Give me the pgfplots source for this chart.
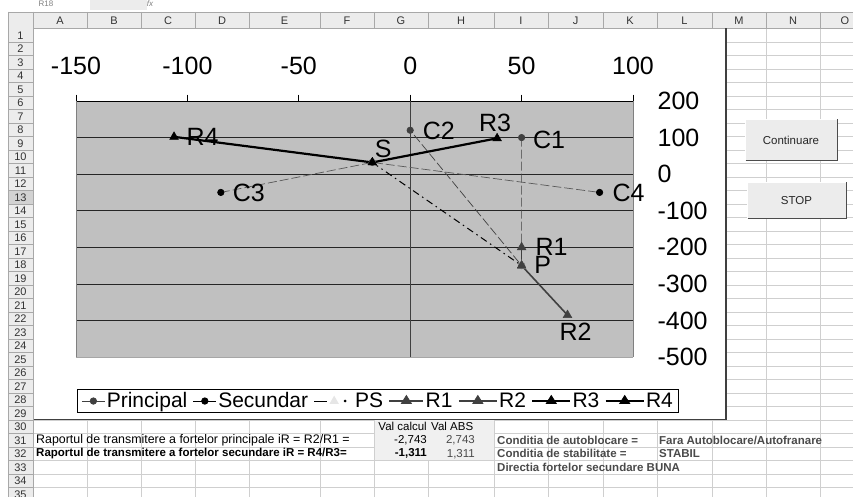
\documentclass[border=0pt]{standalone}
\usepackage{pgfplots}
\pgfplotsset{compat=1.18}
\usepackage{fontspec}
\setmainfont{Liberation Sans}
\definecolor{hdr}{HTML}{ECECEC}
\definecolor{hdrsel}{HTML}{D2D2D2}
\definecolor{hdrline}{HTML}{A8A8A8}
\definecolor{gridc}{HTML}{CFCFCF}
\definecolor{plotbg}{HTML}{C0C0C0}
\definecolor{dg}{HTML}{404040}
\definecolor{cellfill}{HTML}{F0F0F0}
\definecolor{txtgray}{HTML}{4A4A4A}
\definecolor{psmark}{HTML}{E6E6E6}
\tikzset{px/.style={x=1pt,y=-1pt,shift={(0pt,497pt)}}}
\begin{document}
\begin{tikzpicture}
\useasboundingbox (0pt,0pt) rectangle (853pt,497pt);
\clip (0pt,0pt) rectangle (853pt,497pt);
\begin{scope}[px]
\fill[white] (0,0) rectangle (853,497);
% formula bar remnants
\fill[hdr] (90,0) rectangle (147,10);
\node[font=\fontsize{8}{9}\selectfont, text=gray, inner sep=0pt] at (46,4) {R18};
\node[font=\fontsize{8}{9}\selectfont\itshape, text=gray, inner sep=0pt] at (150,4) {fx};
% cell grid
\foreach \k in {0,...,35} \draw[gridc, line width=0.6pt] (33,{28.5+13.5*\k}) -- (853,{28.5+13.5*\k});
\foreach \c in {87,141,195,249,320,374,428,494,548,603,657,712,766,820} \draw[gridc, line width=0.6pt] (\c,28) -- (\c,497);
% shaded value cells
\fill[cellfill] (374.5,420.5) rectangle (494,460.5);
% column header band
\fill[hdr] (8,12) rectangle (853,28.5);
\draw[hdrline] (8,12) -- (853,12);
\draw[hdrline] (8,28.5) -- (853,28.5);
\foreach \c in {8,33,87,141,195,249,320,374,428,494,548,603,657,712,766,820} \draw[hdrline] (\c,12) -- (\c,28.5);
\foreach \l/\c in {A/60,B/114,C/168,D/222,E/284.5,F/347,G/401,H/461,I/521,J/575.5,K/630,L/684.5,M/739,N/793,O/845}
  \node[font=\fontsize{11}{12}\selectfont, text=black!80, inner sep=0pt] at (\c,20.5) {\l};
% row header column
\fill[hdr] (8,28.5) rectangle (33,497);
\fill[hdrsel] (8,{28.5+13.5*12}) rectangle (33,{28.5+13.5*13});
\draw[hdrline] (8,12) -- (8,497);
\draw[hdrline] (33,12) -- (33,497);
\foreach \k in {1,...,35} {
  \draw[hdrline] (8,{28.5+13.5*\k}) -- (33,{28.5+13.5*\k});
  \node[font=\fontsize{11}{12}\selectfont, text=black!80, inner sep=0pt] at (20.5,{28.5+13.5*\k-6.6}) {\k};
}
% chart area
\fill[white] (33.5,29) rectangle (726,419.5);
\draw[dg, line width=1.3pt] (33.5,419.5) -- (726,419.5) -- (726,28.5);
\end{scope}
% chart
\begin{axis}[
  at={(76pt,140pt)}, anchor=south west,
  scale only axis, width=557pt, height=256pt,
  xmin=-150, xmax=100, ymin=-500, ymax=200,
  axis background/.style={fill=plotbg},
  axis x line*=top, axis y line*=box, separate axis lines,
  x axis line style={draw=black, line width=0.8pt, -},
  y axis line style={draw=gray, line width=0.6pt, -},
  xtick={-150,-100,-50,0,50,100},
  ytick={-400,-300,-200,-100,0,100,200},
  extra y ticks={-500},
  extra y tick style={grid=major, major grid style={draw=gray!70, line width=0.6pt}},
  extra x ticks={0},
  extra x tick labels={},
  extra x tick style={grid=major, major grid style={draw=dg, line width=1.2pt}, major tick length=0pt},
  ymajorgrids,
  major grid style={draw=black!85, line width=0.7pt},
  tick align=outside,
  major tick length=6.4pt,
  xtick pos=right, xticklabel pos=right,
  ytick pos=right, yticklabel pos=right,
  ytick style={draw=none},
  xtick style={draw=black, line width=0.7pt},
  tick label style={font=\fontsize{25}{30}\selectfont, inner sep=0pt},
  xticklabel style={anchor=south, yshift=20pt},
  yticklabel style={anchor=west, xshift=18pt},
  /pgf/number format/assume math mode=true,
  clip=false,
  legend columns=-1,
  legend style={at={(0.542,-0.172)}, anchor=center, draw=black, line width=0.8pt, fill=white,
    font=\fontsize{21}{25}\selectfont, inner xsep=4pt, inner ysep=1pt,
    /tikz/every even column/.append style={column sep=4pt}, nodes={inner xsep=1.5pt, inner ysep=2pt}},
]
% Principal
\addplot[forget plot, color=dg, line width=0.7pt, dash pattern=on 9pt off 3pt,
  mark=*, mark size=3.2pt, mark options={solid, fill=dg, draw=dg}]
  coordinates {(50,100) (50,-250) (0,120)};
% Secundar
\addplot[forget plot, color=black!65, line width=0.7pt, dash pattern=on 9pt off 3pt,
  mark=*, mark size=3.2pt, mark options={solid, fill=black, draw=black}]
  coordinates {(-85,-50) (-17,32) (85,-50)};
% PS
\addplot[forget plot, color=black, line width=1pt, dash pattern=on 7pt off 4pt on 1.5pt off 4pt,
  mark=triangle*, mark size=5pt, mark options={solid, fill=psmark, draw=psmark}]
  coordinates {(-17,32) (50,-250)};
% R1
\addplot[forget plot, color=dg, line width=1.6pt, mark=triangle*, mark size=5pt,
  mark options={solid, fill=dg, draw=dg, line width=0.5pt}]
  coordinates {(50,-250) (50,-200)};
% R2
\addplot[forget plot, color=dg, line width=1.6pt, mark=triangle*, mark size=5pt,
  mark options={solid, fill=dg, draw=dg, line width=0.5pt}]
  coordinates {(50,-250) (70.6,-385.5)};
% R3
\addplot[forget plot, color=black, line width=2.2pt, mark=triangle*, mark size=5pt,
  mark options={solid, fill=black, draw=black, line width=0.5pt}]
  coordinates {(-17,32) (39,98)};
% R4
\addplot[forget plot, color=black, line width=2.2pt, mark=triangle*, mark size=5pt,
  mark options={solid, fill=black, draw=black, line width=0.5pt}]
  coordinates {(-17,32) (-106,102)};
% point labels
\addplot[forget plot, only marks, mark=none, nodes near coords, point meta=explicit symbolic,
  visualization depends on={\thisrow{dx}\as\ddx},
  visualization depends on={\thisrow{dy}\as\ddy},
  every node near coord/.append style={anchor=center, inner sep=0pt, xshift=\ddx pt, yshift=\ddy pt,
    font=\fontsize{25}{30}\selectfont, text=black}]
  table[meta=lab] {
x y lab dx dy
50 100 C1 27.5 -2
0 120 C2 28.7 -1
-85 -50 C3 28 0
85 -50 C4 29 0
50 -200 R1 30 0
70.6 -385.5 R2 8 -17
39 98 R3 -2 15
-106 102 R4 28.5 0
-17 32 S 11 14
50 -250 P 21 1
};
% legend
\addlegendimage{legend image code/.code={\draw[dg, line width=0.9pt] (0pt,0pt) -- (23pt,0pt); \fill[dg] (11.5pt,0pt) circle (3.2pt);}}
\addlegendentry{Principal}
\addlegendimage{legend image code/.code={\draw[black, line width=0.9pt] (0pt,0pt) -- (23pt,0pt); \fill[black] (11.5pt,0pt) circle (3.2pt);}}
\addlegendentry{Secundar}
\addlegendimage{legend image code/.code={\draw[black, line width=1pt] (0pt,0pt) -- (13pt,0pt); \fill[psmark] (16pt,-2.5pt) -- (20pt,4.5pt) -- (24pt,-2.5pt) -- cycle; \fill[black] (31pt,0pt) circle (0.9pt); \path (39pt,0pt);}}
\addlegendentry{PS}
\addlegendimage{legend image code/.code={\draw[dg, line width=1.6pt] (0pt,0pt) -- (34pt,0pt); \fill[dg] (12pt,-2.5pt) -- (17pt,5.5pt) -- (22pt,-2.5pt) -- cycle;}}
\addlegendentry{R1}
\addlegendimage{legend image code/.code={\draw[dg, line width=1.6pt] (0pt,0pt) -- (38pt,0pt); \fill[dg] (14pt,-2.5pt) -- (19pt,5.5pt) -- (24pt,-2.5pt) -- cycle;}}
\addlegendentry{R2}
\addlegendimage{legend image code/.code={\draw[black, line width=1.6pt] (0pt,0pt) -- (38pt,0pt); \fill[black] (14pt,-2.5pt) -- (19pt,5.5pt) -- (24pt,-2.5pt) -- cycle;}}
\addlegendentry{R3}
\addlegendimage{legend image code/.code={\draw[black, line width=1.6pt] (0pt,0pt) -- (38pt,0pt); \fill[black] (14pt,-2.5pt) -- (19pt,5.5pt) -- (24pt,-2.5pt) -- cycle;}}
\addlegendentry{R4}
\end{axis}
\begin{scope}[px]
% buttons
\fill[hdr] (745,119) rectangle (837,161);
\draw[white] (745,161) -- (745,119) -- (837,119);
\draw[gray!60!black, line width=1pt] (745.5,161) -- (837,161) -- (837,119.5);
\node[font=\fontsize{11.5}{13}\selectfont, text=black!85] at (791,140) {Continuare};
\fill[hdr] (747,182) rectangle (846,219);
\draw[white] (747,219) -- (747,182) -- (846,182);
\draw[gray!60!black, line width=1pt] (747.5,219) -- (846,219) -- (846,182.5);
\node[font=\fontsize{11.5}{13}\selectfont, text=black!85] at (796.5,200.5) {STOP};
% cell texts
\begin{scope}[every node/.style={font=\fontsize{11.5}{13}\selectfont, inner sep=0pt}]
\node[anchor=east] at (427,426.8) {Val calcul};
\node[anchor=west] at (431,426.8) {Val ABS};
\node[anchor=west, font=\fontsize{12.4}{13}\selectfont] at (36,440.3) {Raportul de transmitere a fortelor principale iR = R2/R1 =};
\node[anchor=west] at (36,453.8) {\bfseries Raportul de transmitere a fortelor secundare iR = R4/R3=};
\node[anchor=east] at (427,440.3) {-2,743};
\node[anchor=east] at (427,453.8) {\bfseries -1,311};
\node[anchor=east, text=txtgray] at (475,440.3) {2,743};
\node[anchor=east, text=txtgray] at (475,453.8) {1,311};
\node[anchor=west, text=txtgray] at (497,440.3) {\bfseries Conditia de autoblocare =};
\node[anchor=west, text=txtgray] at (497,453.8) {\bfseries Conditia de stabilitate =};
\node[anchor=west, text=txtgray] at (497,467.3) {\bfseries Directia fortelor secundare BUNA};
\node[anchor=west, text=txtgray] at (659,440.3) {\bfseries Fara Autoblocare/Autofranare};
\node[anchor=west, text=txtgray] at (659,453.8) {\bfseries STABIL};
\end{scope}
\end{scope}
\end{tikzpicture}
\end{document}
